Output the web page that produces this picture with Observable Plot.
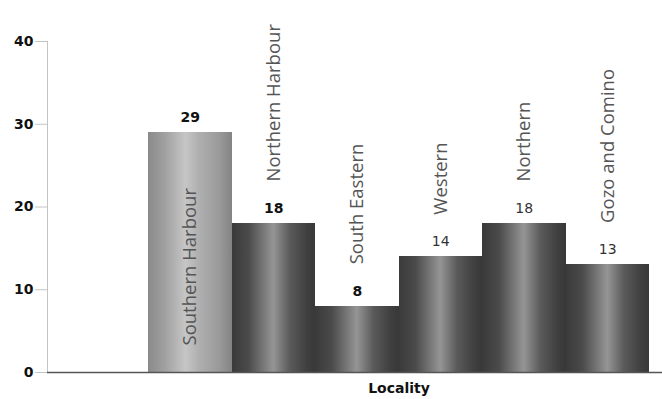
<!DOCTYPE html>
<html>
<head>
<meta charset="utf-8">
<script src="https://cdn.jsdelivr.net/npm/d3@7"></script>
<script src="https://cdn.jsdelivr.net/npm/@observablehq/plot@0.6"></script>
<style>
  html, body { margin: 0; padding: 0; background: #fff; }
  #chart svg { display: block; }
</style>
</head>
<body>
<div id="chart"></div>
<script>
// Number of respondents by locality
const localities = ["Southern Harbour", "Northern Harbour", "South Eastern", "Western", "Northern", "Gozo and Comino"];
const counts = [29, 18, 8, 14, 18, 13];
const yTicks = [0, 10, 20, 30, 40];
const axisTitle = "Locality";

const rows = localities.map((name, i) => ({name, count: counts[i], i}));
const first = rows.filter(d => d.i === 0);
const rest = rows.filter(d => d.i > 0);
const boldValues = rows.filter(d => d.i < 3);
const plainValues = rows.filter(d => d.i >= 3);

const catFont = "'Open Sans'";
const numFont = "'DejaVu Sans', Verdana, sans-serif";

const chart = Plot.plot({
  width: 662,
  height: 399,
  marginLeft: 47,
  marginRight: 0,
  marginTop: 41,
  marginBottom: 27,
  style: {background: "#fff", fontFamily: numFont},
  x: {domain: localities, range: [148, 649], padding: 0, round: false, axis: null},
  y: {domain: [0, 40], axis: null},
  marks: [
    Plot.frame({anchor: "left", stroke: "#c4c4c4"}),
    Plot.axisY({ticks: yTicks, tickSize: 12, tickPadding: 2, stroke: "#c4c4c4", label: null,
      fontWeight: "bold", fontSize: 14, fill: "#111", tickFormat: d => d}),
    Plot.barY(first, {x: "name", y: "count", fill: "url(#barLight)", shapeRendering: "crispEdges"}),
    Plot.barY(rest, {x: "name", y: "count", fill: "url(#barDark)", shapeRendering: "crispEdges"}),
    Plot.ruleY([0], {stroke: "#555", strokeWidth: 1.5}),
    // value labels
    Plot.text(boldValues, {x: "name", y: "count", text: "count", dy: -15,
      fontWeight: "bold", fontSize: 14, fill: "#111", fontFamily: numFont}),
    Plot.text(plainValues, {x: "name", y: "count", text: "count", dy: -15,
      fontSize: 14, fill: "#333", fontFamily: numFont}),
    // locality names, rotated
    Plot.text(first, {x: "name", y: 0, text: "name", rotate: -90, textAnchor: "start",
      dy: -27, fontSize: 18.5, fill: "#555", fontFamily: catFont}),
    Plot.text(rest, {x: "name", y: "count", text: "name", rotate: -90, textAnchor: "start",
      dy: -42, fontSize: 18.5, fill: "#555", fontFamily: catFont}),
    // axis title centred under the bars
    Plot.text([axisTitle], {x: () => "South Eastern", frameAnchor: "bottom", dx: 41.75, dy: 20,
      fontWeight: "bold", fontSize: 14, fill: "#111", fontFamily: numFont})
  ]
});

// cylinder-like shading for the bars
const svg = d3.select(chart);
const defs = svg.insert("defs", ":first-child");
function grad(id, stops) {
  const g = defs.append("linearGradient").attr("id", id)
    .attr("x1", "0%").attr("x2", "100%").attr("y1", "0%").attr("y2", "0%");
  stops.forEach(([o, c]) => g.append("stop").attr("offset", o).attr("stop-color", c));
}
grad("barLight", [["0%", "#8a8a8a"], ["20%", "#a0a0a0"], ["45%", "#c6c6c6"], ["60%", "#b0b0b0"], ["85%", "#9a9a9a"], ["100%", "#858585"]]);
grad("barDark", [["0%", "#3a3a3a"], ["20%", "#4a4a4a"], ["50%", "#959595"], ["70%", "#5a5a5a"], ["90%", "#404040"], ["100%", "#383838"]]);

document.getElementById("chart").appendChild(chart);
</script>
</body>
</html>
